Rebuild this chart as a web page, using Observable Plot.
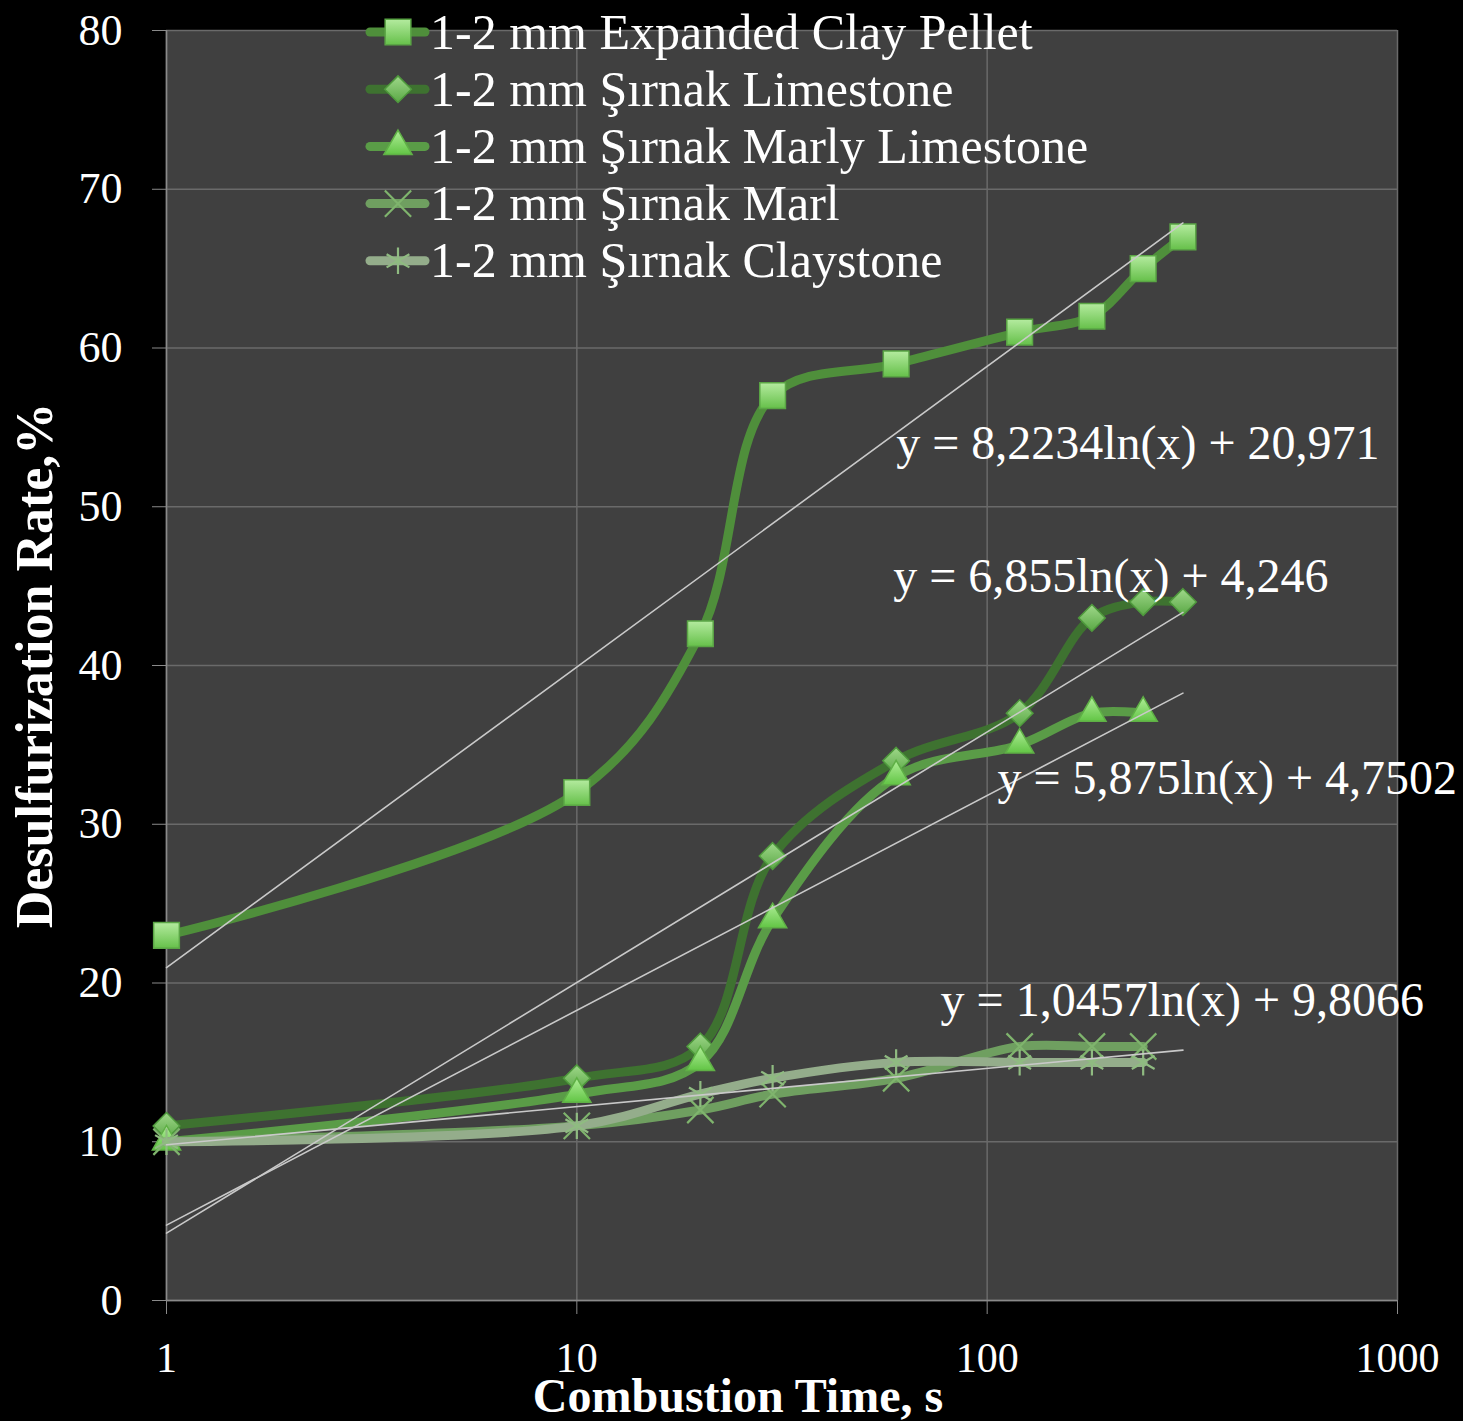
<!DOCTYPE html>
<html>
<head>
<meta charset="utf-8">
<script src="https://cdn.jsdelivr.net/npm/d3@7"></script>
<script src="https://cdn.jsdelivr.net/npm/@observablehq/plot@0.6"></script>
<style>
  html, body { margin: 0; padding: 0; background: #000; }
  #chart { position: relative; width: 1463px; height: 1421px; overflow: hidden; }
</style>
</head>
<body>
<div id="chart"></div>
<script>
// ---- data ----
const seriesNames = [
  "1-2 mm Expanded Clay Pellet",
  "1-2 mm Şırnak Limestone",
  "1-2 mm Şırnak Marly Limestone",
  "1-2 mm Şırnak Marl",
  "1-2 mm Şırnak Claystone"
];
const timesLong = [1, 10, 20, 30, 60, 120, 180, 240, 300];
const timesShort = [1, 10, 20, 30, 60, 120, 180, 240];
const clayPellet = [23, 32, 42, 57, 59, 61, 62, 65, 67];
const limestone = [11, 14, 16, 28, 34, 37, 43, 44, 44];
const marlyLimestone = [10, 13, 15, 24, 33, 35, 37, 37];
const marl = [10, 11, 12, 13, 14, 16, 16, 16];
const claystone = [10, 11, 13, 14, 15, 15, 15, 15];

const xTicks = [1, 10, 100, 1000];
const yTicks = [0, 10, 20, 30, 40, 50, 60, 70, 80];

// trendlines y = a ln(x) + b, drawn over the x range [1, 300]
const trendSlopes = [8.2234, 6.855, 5.875, 1.0457];
const trendIntercepts = [20.971, 4.246, 4.7502, 9.8066];
const trendRange = [1, 300];
const trendLabels = [
  "y = 8,2234ln(x) + 20,971",
  "y = 6,855ln(x) + 4,246",
  "y = 5,875ln(x) + 4,7502",
  "y = 1,0457ln(x) + 9,8066"
];
const trendLabelX = [60, 59, 106, 77];
const trendLabelY = [54, 45.6, 32.9, 18.9];

// ---- styles ----
const lineColors = ["#4f8f3b", "#3e7230", "#5a9c47", "#6f9f60", "#94ad8b"];
const markerFills = ["url(#gSq)", "url(#gDi)", "url(#gTr)", "#7fb46d", "#8fbb81"];
const markerStrokes = ["#5aa545", "#4f9a3d", "#5fb046", "#7fb46d", "#8fbb81"];
const markerSymbols = ["square", "diamond2", "triangle", "times", "asterisk"];
const markerR = [14.5, 12, 10.5, 12, 12.5];
const serif = "'Liberation Serif', 'DejaVu Serif', serif";

// ---- tables built from arrays ----
const seriesValues = [clayPellet, limestone, marlyLimestone, marl, claystone];
const seriesTimes = [timesLong, timesLong, timesShort, timesShort, timesShort];
const rows = [];
seriesValues.forEach((vals, i) => {
  vals.forEach((v, j) => rows.push({ s: i, x: seriesTimes[i][j], y: v }));
});
const trendRows = [];
trendSlopes.forEach((a, i) => {
  trendRange.forEach(x => trendRows.push({ t: i, x, y: a * Math.log(x) + trendIntercepts[i] }));
});
const labelRows = trendLabels.map((t, i) => ({ text: t, x: trendLabelX[i], y: trendLabelY[i] }));

const marks = [
  Plot.frame({ fill: "#404040" }),
  Plot.ruleY(yTicks, { stroke: "#6a6a6a", strokeWidth: 1.5 }),
  Plot.ruleX(xTicks, { stroke: "#6a6a6a", strokeWidth: 1.5 }),
  Plot.ruleY([0], { stroke: "#8a8a8a", strokeWidth: 1.5 }),
  Plot.ruleX([1], { stroke: "#8a8a8a", strokeWidth: 1.5 }),
  Plot.axisY({ ticks: yTicks, tickSize: 14, tickPadding: 30, fontSize: 44, label: null, stroke: "#8a8a8a", tickFormat: d => String(d) }),
  Plot.axisX({ ticks: xTicks, tickSize: 14, tickPadding: 28, fontSize: 42, label: null, stroke: "#8a8a8a", tickFormat: d => String(d) })
];
seriesNames.forEach((name, i) => {
  const d = rows.filter(r => r.s === i);
  marks.push(Plot.line(d, { x: "x", y: "y", stroke: lineColors[i], strokeWidth: 9, curve: "catmull-rom", strokeLinecap: "round", strokeLinejoin: "round" }));
  marks.push(Plot.dot(d, { x: "x", y: "y", symbol: markerSymbols[i], r: markerR[i], fill: i < 3 ? markerFills[i] : "none", stroke: markerStrokes[i], strokeWidth: i < 3 ? 1.5 : 2.2 }));
});
marks.push(Plot.line(trendRows, { x: "x", y: "y", z: "t", stroke: "#c9c9c9", strokeWidth: 1.6 }));
marks.push(Plot.text(labelRows, { x: "x", y: "y", text: "text", textAnchor: "start", fill: "white", fontSize: 48, fontFamily: serif }));
marks.push(Plot.text({ length: 1 }, { frameAnchor: "bottom", lineAnchor: "middle", textAnchor: "middle", text: () => "Combustion Time, s", dx: -44, dy: 96, fill: "white", fontSize: 48, fontWeight: "bold", fontFamily: serif }));
marks.push(Plot.text({ length: 1 }, { frameAnchor: "left", lineAnchor: "middle", textAnchor: "middle", text: () => "Desulfurization Rate,%", rotate: -90, dx: -131, fill: "white", fontSize: 52, fontWeight: "bold", fontFamily: serif }));

const chart = Plot.plot({
  width: 1463,
  height: 1421,
  marginLeft: 166,
  marginRight: 66,
  marginTop: 30,
  marginBottom: 121,
  style: { background: "#000", color: "white", fontFamily: serif, overflow: "visible" },
  x: { type: "log", domain: [1, 1000] },
  y: { domain: [0, 80] },
  marks
});

// gradients for the bevelled markers
const svg = d3.select(chart);
const defs = svg.insert("defs", ":first-child");
[["gSq", "#b4eb9f", "#66c04a"], ["gDi", "#9fd88a", "#5aa845"], ["gTr", "#b0ee98", "#62c545"]].forEach(([id, a, b]) => {
  const g = defs.append("linearGradient").attr("id", id).attr("x1", 0).attr("y1", 0).attr("x2", 0).attr("y2", 1);
  g.append("stop").attr("offset", "0%").attr("stop-color", a);
  g.append("stop").attr("offset", "100%").attr("stop-color", b);
});

// legend inside the plot area
const lg = svg.append("g").attr("class", "legend").attr("text-anchor", "start");
const legendSymbols = [d3.symbolSquare, d3.symbolDiamond2, d3.symbolTriangle, d3.symbolTimes, d3.symbolAsterisk];
seriesNames.forEach((name, i) => {
  const cy = 32 + i * 57.2;
  lg.append("line").attr("x1", 370).attr("x2", 425).attr("y1", cy).attr("y2", cy)
    .attr("stroke", lineColors[i]).attr("stroke-width", 9).attr("stroke-linecap", "round");
  lg.append("path").attr("d", d3.symbol(legendSymbols[i], Math.PI * markerR[i] * markerR[i])())
    .attr("transform", `translate(398,${cy})`)
    .attr("fill", i < 3 ? markerFills[i] : "none").attr("stroke", markerStrokes[i])
    .attr("stroke-width", i < 3 ? 1.5 : 2.2);
  lg.append("text").attr("x", 430).attr("y", cy).attr("dy", "0.33em").attr("text-anchor", "start")
    .attr("fill", "white").attr("font-size", 50).attr("font-family", serif).text(name);
});

document.getElementById("chart").appendChild(chart);
</script>
</body>
</html>
